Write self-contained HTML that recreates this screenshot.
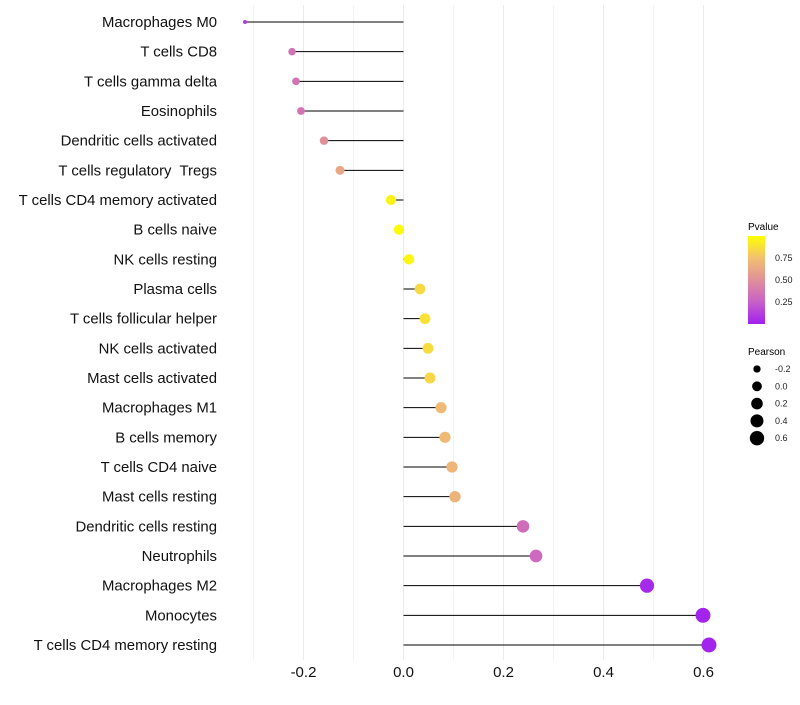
<!DOCTYPE html>
<html><head><meta charset="utf-8"><style>
body{margin:0;background:#fff;font-family:"Liberation Sans",sans-serif}
text{white-space:pre}
</style></head><body>
<svg id="c" width="800" height="700" xmlns="http://www.w3.org/2000/svg">
<defs><linearGradient id="pg" x1="0" y1="1" x2="0" y2="0">
<stop offset="0" stop-color="#a020f0"/><stop offset="0.25" stop-color="#c860c8"/><stop offset="0.5" stop-color="#e0909a"/><stop offset="0.75" stop-color="#f2c070"/><stop offset="1" stop-color="#ffff00"/></linearGradient></defs>
<g id="grid"></g><g id="marks"></g><g id="labels"></g>
<g font-size="10">
<text x="748" y="230" fill="#000">Pvalue</text>
<rect x="748" y="236" width="17" height="88" fill="url(#pg)"/>
<g id="cbticks" font-size="9"></g>
<text x="748" y="355" fill="#000">Pearson</text>
<g id="sizeleg" font-size="9"></g>
</g>
</svg>
<script>
const categories=["Macrophages M0","T cells CD8","T cells gamma delta","Eosinophils","Dendritic cells activated","T cells regulatory  Tregs","T cells CD4 memory activated","B cells naive","NK cells resting","Plasma cells","T cells follicular helper","NK cells activated","Mast cells activated","Macrophages M1","B cells memory","T cells CD4 naive","Mast cells resting","Dendritic cells resting","Neutrophils","Macrophages M2","Monocytes","T cells CD4 memory resting"];
const pearson=[-0.317,-0.223,-0.215,-0.205,-0.159,-0.127,-0.025,-0.009,0.011,0.033,0.043,0.049,0.053,0.075,0.083,0.097,0.103,0.239,0.265,0.487,0.599,0.611];
const pvalue=[0.1,0.35,0.35,0.35,0.5,0.62,0.95,0.98,0.96,0.85,0.88,0.86,0.84,0.72,0.72,0.7,0.68,0.32,0.3,0.04,0.02,0.02];
const xTicks=[-0.2,0,0.2,0.4,0.6];
const xTickLabels=["-0.2","0.0","0.2","0.4","0.6"];
const cbTicks=[0.25,0.5,0.75];
const sizeLegend=[-0.2,0,0.2,0.4,0.6];
const NS="http://www.w3.org/2000/svg";
const X=v=>403.5+v*500;
const Y=i=>22+i*(623/21);
const R=v=>2+5.5*Math.sqrt(Math.max(0,v+0.317)/0.93);
const stops=[[0,[160,32,240]],[0.25,[200,96,200]],[0.5,[224,144,154]],[0.75,[242,192,112]],[1,[255,255,0]]];
function col(p){for(let k=1;k<stops.length;k++){if(p<=stops[k][0]){const a=stops[k-1],b=stops[k],t=(p-a[0])/(b[0]-a[0]);return`rgb(${a[1].map((c,j)=>Math.round(c+(b[1][j]-c)*t)).join(",")})`;}}return"rgb(255,255,0)";}
function el(t,a,parent){const e=document.createElementNS(NS,t);for(const k in a)e.setAttribute(k,a[k]);document.getElementById(parent).appendChild(e);return e;}
for(let v=-0.3;v<=0.61;v+=0.1){const g=el("line",{x1:X(v),x2:X(v),y1:5,y2:660,stroke:"#ebebeb","stroke-width":Math.abs(Math.round(v*10))%2==0?1:0.6},"grid");

}
xTicks.forEach((v,i)=>{const t=el("text",{x:X(v),y:677,"text-anchor":"middle","font-size":15,fill:"#111"},"labels");t.textContent=xTickLabels[i];

});
categories.forEach((c,i)=>{
const t=el("text",{x:217,y:Y(i)+5,"text-anchor":"end","font-size":14.9,fill:"#111"},"labels");t.textContent=c;


const l=el("line",{x1:X(0),x2:X(pearson[i]),y1:Y(i),y2:Y(i),stroke:"#000","stroke-width":1},"marks");


const d=el("circle",{cx:X(pearson[i]),cy:Y(i),r:R(pearson[i]),fill:col(pvalue[i])},"marks");


});
cbTicks.forEach(p=>{const y=324-p*88;
const t=el("text",{x:775,y:y+3,fill:"#222"},"cbticks");t.textContent=p.toFixed(2);

});
sizeLegend.forEach((v,i)=>{const y=369+i*17.3;
const d=el("circle",{cx:757,cy:y,r:R(v)-0.3,fill:"#000"},"sizeleg");


const t=el("text",{x:775,y:y+3,fill:"#222"},"sizeleg");t.textContent=v.toFixed(1);

});
</script>
</body></html>
